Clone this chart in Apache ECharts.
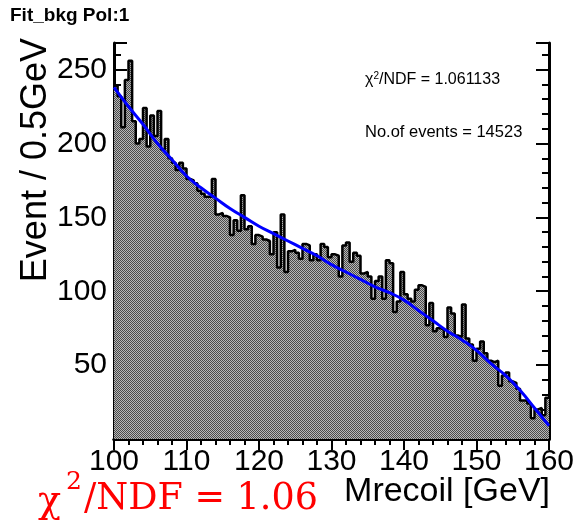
<!DOCTYPE html>
<html><head><meta charset="utf-8">
<script src="https://cdn.jsdelivr.net/npm/echarts/dist/echarts.min.js"></script>
<style>html,body{margin:0;padding:0;background:#fff}#c{width:582px;height:523px}</style>
</head><body><div id="c"></div>
<script>
// ---- data ----
const binLow = 100;
const binWidth = 0.5;
const counts = [
 239,232,211,243,256,215,200,203,224,198,
 219,205,222,196,203,190,187,182,187,183,
 176,175,173,168,166,164,164,176,152,153,
 151,150,138,148,141,165,142,144,132,138,
 137,135,134,125,140,116,152,113,127,128,
 126,122,132,131,121,125,121,132,130,123,
 125,124,110,131,133,120,126,124,112,113,
 110,95,107,110,95,121,119,86,93,113,
 98,95,93,101,104,103,77,92,73,75,
 74,69,89,85,70,69,91,68,64,53,
 61,66,58,53,52,53,36,43,45,39,
 38,34,26,26,24,14,20,21,16,28
];
const fitX = [100,102,104,106,108,110,112,114,116,118,120,122,124,126,128,130,132,134,136,138,140,142,144,146,148,150,152,154,156,158,160];
const fitY = [238,225,213,200,189,178,170,163,156,150,144,139,134,129,124,118,113,108,103,99,94,87,80,73,67,60,51,43,33,21,9];
const xTickLabels = [100,110,120,130,140,150,160];
const yTickLabels = [50,100,150,200,250];
const titleText = 'Fit_bkg Pol:1';
const chi2Text = '1.061133';
const nEventsText = '14523';
const chi2Short = '1.06';

// ---- build ----
const histData = counts.map((c, i) => [binLow + i * binWidth, c]);
histData.push([binLow + counts.length * binWidth, counts[counts.length - 1]]);
const fitData = fitX.map((x, i) => [x, fitY[i]]);

const pc = document.createElement('canvas');
pc.width = 2; pc.height = 2;
const pctx = pc.getContext('2d');
pctx.fillStyle = '#b8b8b8'; pctx.fillRect(0, 0, 2, 2);
pctx.fillStyle = '#4a4a4a'; pctx.fillRect(0, 0, 1, 1); pctx.fillRect(1, 1, 1, 1);

const FONT = 'Liberation Sans, Arial, sans-serif';
const chart = echarts.init(document.getElementById('c'), null, {renderer: 'canvas'});
const frameAxisLine = {show: true, lineStyle: {color: '#000', width: 3}};
chart.setOption({
  animation: false,
  backgroundColor: '#fff',
  grid: {left: 114, right: 33, top: 43, bottom: 84, containLabel: false},
  xAxis: [{
    type: 'value', min: 100, max: 160, interval: 10,
    axisLine: frameAxisLine,
    axisTick: {inside: true, length: 11, lineStyle: {color: '#000', width: 2}},
    minorTick: {show: true, splitNumber: 5, length: 6, lineStyle: {color: '#000', width: 2}},
    splitLine: {show: false},
    axisLabel: {fontFamily: FONT, fontSize: 30, color: '#000', margin: 8,
      formatter: v => xTickLabels.includes(v) ? String(v) : ''}
  }, {
    type: 'value', min: 100, max: 160, interval: 10, position: 'top',
    axisLine: frameAxisLine,
    axisTick: {inside: true, length: 11, lineStyle: {color: '#000', width: 2}},
    minorTick: {show: true, splitNumber: 5, length: 6, lineStyle: {color: '#000', width: 2}},
    splitLine: {show: false}, axisLabel: {show: false}
  }],
  yAxis: [{
    type: 'value', min: 0, max: 268, interval: 50,
    axisLine: frameAxisLine,
    axisTick: {inside: true, length: 13, lineStyle: {color: '#000', width: 2}},
    minorTick: {show: true, splitNumber: 5, length: 7, lineStyle: {color: '#000', width: 2}},
    splitLine: {show: false},
    axisLabel: {fontFamily: FONT, fontSize: 30, color: '#000', margin: 7, showMaxLabel: false,
      formatter: v => yTickLabels.includes(v) ? String(v) : ''}
  }, {
    type: 'value', min: 0, max: 268, interval: 50, position: 'right',
    axisLine: frameAxisLine,
    axisTick: {inside: true, length: 13, lineStyle: {color: '#000', width: 2}},
    minorTick: {show: true, splitNumber: 5, length: 7, lineStyle: {color: '#000', width: 2}},
    splitLine: {show: false}, axisLabel: {show: false}
  }],
  series: [{
    type: 'line', step: 'end', data: histData, symbol: 'none', z: 2,
    lineStyle: {color: '#000', width: 2.5},
    areaStyle: {color: {image: pc, repeat: 'repeat'}, opacity: 1}
  }, {
    type: 'line', smooth: 0.5, data: fitData, symbol: 'none', z: 3,
    lineStyle: {color: '#0000ff', width: 3}
  }],
  graphic: [
    {type: 'text', x: 10, y: 16, style: {text: titleText, font: 'bold 19px ' + FONT, fill: '#000', textVerticalAlign: 'middle'}},
    {type: 'text', x: 36, y: 38, rotation: Math.PI / 2,
      style: {text: 'Event / 0.5GeV', font: '36px ' + FONT, fill: '#000', textAlign: 'right', textVerticalAlign: 'middle'}},
    {type: 'text', x: 550, y: 492,
      style: {text: 'Mrecoil [GeV]', font: '34px ' + FONT, fill: '#000', textAlign: 'right', textVerticalAlign: 'middle'}},
    {type: 'text', x: 365, y: 80,
      style: {text: 'χ{s|2}/NDF = ' + chi2Text, font: '16px ' + FONT, fill: '#000', textVerticalAlign: 'middle',
        rich: {s: {fontSize: 10, fontFamily: FONT, fill: '#000', padding: [0, 0, 8, 0]}}}},
    {type: 'text', x: 365, y: 132,
      style: {text: 'No.of events = ' + nEventsText, font: '16.5px ' + FONT, fill: '#000', textVerticalAlign: 'middle'}},
    {type: 'text', x: 38, y: 502,
      style: {text: 'χ', font: '38px DejaVu Serif, serif', fill: '#ff0000', textVerticalAlign: 'middle'}},
    {type: 'text', x: 66, y: 482,
      style: {text: '2', font: '25px DejaVu Serif, serif', fill: '#ff0000', textVerticalAlign: 'middle'}},
    {type: 'text', x: 84, y: 500,
      style: {text: '/NDF = ' + chi2Short, font: '36.5px DejaVu Serif, serif', fill: '#ff0000', textVerticalAlign: 'middle'}}
  ]
});
</script></body></html>
